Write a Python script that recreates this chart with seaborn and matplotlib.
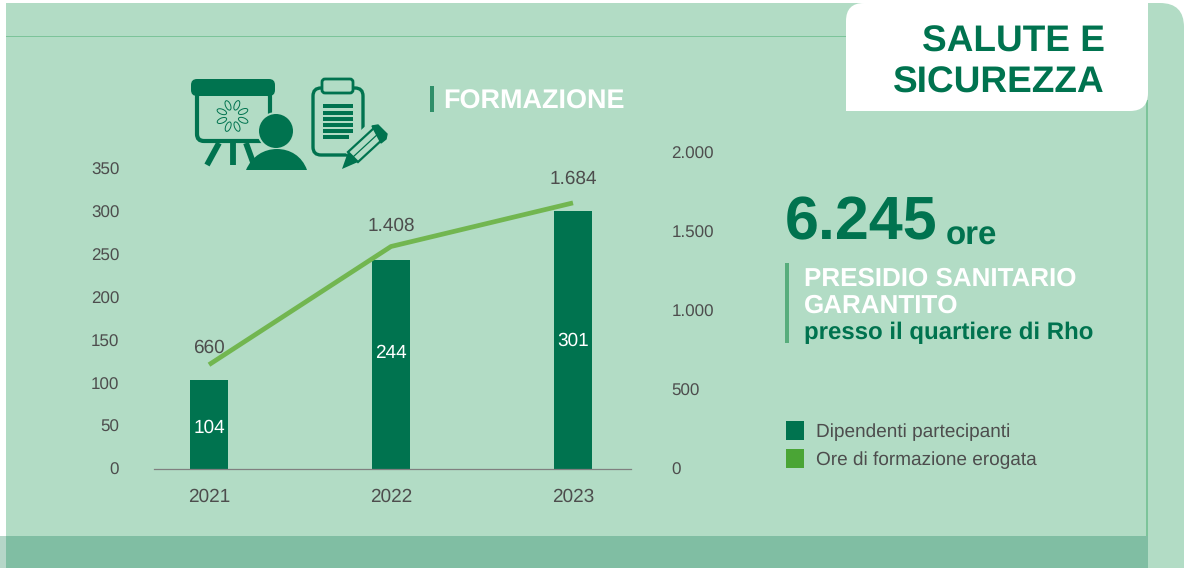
import math
import matplotlib
matplotlib.use("Agg")
import matplotlib.pyplot as plt
import seaborn as sns
import pandas as pd
from matplotlib.patches import FancyBboxPatch, Rectangle, Circle, Ellipse, Polygon, Patch, PathPatch
from matplotlib.path import Path
from matplotlib.ticker import FuncFormatter

years = ["2021", "2022", "2023"]
participants = [104, 244, 301]
hours = [660, 1408, 1684]
legend_labels = ["Dipendenti partecipanti", "Ore di formazione erogata"]

W, H = 1184, 568
PANEL = "#B2DCC5"
DARK = "#00734F"
LINE = "#72B650"
LEG2 = "#4AA535"
TXT = "#4D4D4D"

sns.set_theme(style="white")
plt.rcParams["font.family"] = ["Liberation Sans", "DejaVu Sans"]
plt.rcParams["text.hinting"] = "no_hinting"
plt.rcParams["text.hinting_factor"] = 1

fig = plt.figure(figsize=(W / 100, H / 100), dpi=100, facecolor="white")

# ---------- page furniture, in pixel coordinates ----------
bg = fig.add_axes([0, 0, 1, 1], zorder=0)
bg.set_xlim(0, W)
bg.set_ylim(H, 0)
bg.axis("off")

def rrect(x0, y0, x1, y1, r, **kw):
    p = FancyBboxPatch((x0 + r, y0 + r), x1 - x0 - 2 * r, y1 - y0 - 2 * r,
                       boxstyle=f"round,pad={r},rounding_size={r}", linewidth=kw.pop("lw", 0), **kw)
    bg.add_patch(p)
    return p

def rect(x0, y0, x1, y1, **kw):
    bg.add_patch(Rectangle((x0, y0), x1 - x0, y1 - y0, linewidth=0, **kw))

rrect(1100, 3, 1184, 640, 24, facecolor=PANEL)
rect(6, 3, 1148, 568, facecolor=PANEL)
rect(0, 536, 6, 568, facecolor="#B5D6C8")
rect(6, 536, 1148, 568, facecolor="#80BEA3")
rect(1146, 100, 1147.5, 536, facecolor="#7CC49A")
rect(6, 35.5, 850, 37, facecolor="#7CC49A")
# white tab: rounded top-left and bottom-right
rrect(846, 3, 1148, 111, 18, facecolor="white")
rect(846, 60, 880, 111, facecolor="white")
rect(1100, 3, 1148, 40, facecolor="white")

# ---------- icons ----------
rrect(191, 79, 275, 96, 6, facecolor=DARK)
rrect(197, 90, 270, 141, 7, facecolor="none", edgecolor=DARK, lw=3.0)
for xa, xb in [(219, 207), (232.5, 232.5), (246, 254)]:
    bg.plot([xa, xb], [143, 165], color=DARK, lw=4.2, solid_capstyle="butt")
for i in range(8):
    a = math.radians(i * 45 + 22)
    bg.add_patch(Ellipse((232.5 + 11.5 * math.cos(a), 116 + 11.5 * math.sin(a)), 10, 5, angle=i * 45 + 22,
                         facecolor="none", edgecolor=DARK, lw=0.7))
bg.add_patch(Circle((276, 131), 19, facecolor=PANEL, linewidth=0))
bg.add_patch(Circle((276, 131), 17, facecolor=DARK, linewidth=0))
body = Path([(246, 170), (252, 156), (264, 149), (277, 149), (290, 149), (302, 156), (307, 170), (246, 170)],
            [Path.MOVETO, Path.CURVE4, Path.CURVE4, Path.CURVE4, Path.CURVE4, Path.CURVE4, Path.CURVE4, Path.CLOSEPOLY])
bg.add_patch(PathPatch(body, facecolor=DARK, linewidth=0))
rrect(313, 88, 363, 155, 8, facecolor="none", edgecolor=DARK, lw=2.4)
rrect(322, 79, 353, 93, 3, facecolor=PANEL, edgecolor=DARK, lw=2.0)
for yy in [106, 113, 119, 125, 131, 137]:
    rect(323, yy - 1.6, 353 if yy != 137 else 349, yy + 1.6, facecolor=DARK)
bg.add_patch(Polygon([(345, 148), (372, 124), (388, 139), (361, 165)], closed=True, facecolor=PANEL, edgecolor=PANEL, lw=4))
bg.add_patch(Polygon([(348, 152), (374, 128), (384, 138), (358, 162)], closed=True, facecolor=PANEL, edgecolor=DARK, lw=1.6))
bg.add_patch(Polygon([(372, 126), (378, 125), (387, 134), (386, 139), (381, 143)], closed=True, facecolor=DARK, edgecolor=DARK, lw=1))
bg.add_patch(Polygon([(348, 152), (358, 162), (342, 169)], closed=True, facecolor=DARK, linewidth=0))
bg.plot([353, 379], [157, 133], color=DARK, lw=0.9)

# ---------- header and call-out text ----------
bg.text(1105, 52, "SALUTE E", ha="right", va="baseline", fontsize=26.4, fontweight="bold", color=DARK)
bg.text(1105, 93, "SICUREZZA", ha="right", va="baseline", fontsize=26.4, fontweight="bold", color=DARK)
rect(430, 86, 434, 112, facecolor="#2F8F69")
bg.text(443, 109, "FORMAZIONE", ha="left", va="baseline", fontsize=19.7, fontweight="bold", color="white")
bg.text(785, 239, "6.245", ha="left", va="baseline", fontsize=44, fontweight="bold", color=DARK)
bg.text(946, 245, "ore", ha="left", va="baseline", fontsize=23.5, fontweight="bold", color=DARK)
rect(785, 263, 789, 343, facecolor="#57AD7C")
bg.text(804, 286, "PRESIDIO SANITARIO", ha="left", va="baseline", fontsize=19.0, fontweight="bold", color="white")
bg.text(804, 313, "GARANTITO", ha="left", va="baseline", fontsize=19.0, fontweight="bold", color="white")
bg.text(804, 339, "presso il quartiere di Rho", ha="left", va="baseline", fontsize=16.95, fontweight="bold", color=DARK)

# ---------- chart ----------
L, R, B, T = 154, 631, 469, 143
ax = fig.add_axes([L / W, 1 - B / H, (R - L) / W, (B - T) / H], zorder=2)
ax.patch.set_alpha(0)
df = pd.DataFrame({"year": years, "participants": participants, "hours": hours})
sns.barplot(data=df, x="year", y="participants", color=DARK, saturation=1, width=38 / 182,
            linewidth=0, edgecolor="none", ax=ax)
ax.set_xlim(-55 / 182, 422 / 182)
ax.set_ylim(0, 380.4)
ax.set_yticks(range(0, 351, 50))
ax.set_xlabel("")
ax.set_ylabel("")
ax.tick_params(axis="y", length=0, pad=25, labelsize=12, labelcolor=TXT)
ax.tick_params(axis="x", length=0, pad=14, labelsize=14, labelcolor=TXT)
sns.despine(ax=ax, left=True, right=True, top=True)
ax.spines["bottom"].set_color("#808080")
ax.spines["bottom"].set_linewidth(0.9)

ax2 = ax.twinx()
ax2.patch.set_alpha(0)
sns.lineplot(data=df, x="year", y="hours", color=LINE, lw=3.4, ax=ax2, solid_capstyle="butt")
ax2.set_xlim(ax.get_xlim())
ax2.set_ylim(0, 2063)
ax2.set_yticks(range(0, 2001, 500))
ax2.yaxis.set_major_formatter(FuncFormatter(lambda v, _: f"{int(v):,}".replace(",", ".")))
ax2.set_ylabel("")
ax2.tick_params(axis="y", length=0, pad=29, labelsize=12, labelcolor=TXT)
for s in ["left", "right", "top", "bottom"]:
    ax2.spines[s].set_visible(False)

for i, (v, off) in enumerate(zip(participants, [-3, 11, -1])):
    ax.annotate(str(v), (i, v / 2), xytext=(0, off * 0.72), textcoords="offset points",
                ha="center", va="center", color="white", fontsize=14, zorder=5)
for i, (v, off) in enumerate(zip(hours, [17, 21, 24])):
    ax2.annotate(f"{v:,}".replace(",", "."), (i, v), xytext=(0, off * 0.72), textcoords="offset points",
                 ha="center", va="center", color=TXT, fontsize=13.6)

handles = [Patch(facecolor=DARK, linewidth=0), Patch(facecolor=LEG2, linewidth=0)]
fig.legend(handles, legend_labels, loc="upper left", bbox_to_anchor=(786 / W, 1 - 421 / H),
           bbox_transform=fig.transFigure, frameon=False, fontsize=13.8, labelcolor=TXT,
           handlelength=0.93, handleheight=1.14, handletextpad=0.63, labelspacing=0.42,
           borderpad=0, borderaxespad=0).set_zorder(5)

fig.savefig("out.png", dpi=100, facecolor="white")
